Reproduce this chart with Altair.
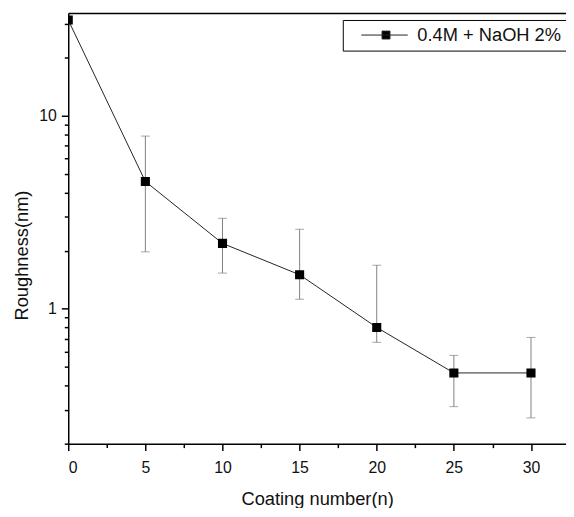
import altair as alt
import pandas as pd

# ---- data ----
coating = [0, 5, 10, 15, 20, 25, 30]
roughness = [31.3, 4.56, 2.18, 1.50, 0.80, 0.465, 0.465]
err_low = [None, 1.97, 1.53, 1.12, 0.67, 0.311, 0.272]
err_high = [None, 7.84, 2.94, 2.58, 1.68, 0.573, 0.71]
series_name = "0.4M + NaOH 2%"

x_ticks = [0, 2.5, 5, 7.5, 10, 12.5, 15, 17.5, 20, 22.5, 25, 27.5, 30]
x_major = [0, 5, 10, 15, 20, 25, 30]
y_ticks = [0.2, 0.3, 0.4, 0.5, 0.6, 0.7, 0.8, 0.9, 1, 2, 3, 4, 5, 6, 7, 8, 9, 10, 20, 30]
y_major = [1, 10]
y_labels = ["1", "10"]
x_domain = [0, 32.27]
y_domain = [0.2, 34]

df = pd.DataFrame({
    "coating": coating,
    "roughness": roughness,
    "lo": err_low,
    "hi": err_high,
    "series": [series_name] * len(coating),
})
err_df = df.dropna(subset=["lo", "hi"])

FONT = "Liberation Sans"
xs = alt.Scale(domain=x_domain, nice=False, zero=False)
ys = alt.Scale(type="log", domain=y_domain, nice=False)

x_major_js = "[" + ",".join(str(v) for v in x_major) + "]"
y_major_js = "[" + ",".join(str(v) for v in y_major) + "]"
y_label_expr = " : ".join(
    f"datum.value == {v} ? '{t}'" for v, t in zip(y_major, y_labels)
) + " : ''"

x_axis = alt.Axis(
    values=x_ticks,
    labelExpr=f"indexof({x_major_js}, datum.value) >= 0 ? datum.label : ''",
    tickSize={"condition": {"test": f"indexof({x_major_js}, datum.value) >= 0", "value": 7}, "value": 4},
    title="Coating number(n)",
    titleY=47,
    titleBaseline="top",
    grid=False,
    labelPadding=9,
)
y_axis = alt.Axis(
    values=y_ticks,
    labelExpr=y_label_expr,
    tickSize={"condition": {"test": f"indexof({y_major_js}, datum.value) >= 0", "value": 7}, "value": 4},
    title="Roughness(nm)",
    titleX=-37,
    titleY=245,
    titleAngle=-90,
    titleBaseline="bottom",
    titleAlign="center",
    grid=False,
    labelPadding=5,
)
top_axis = alt.Axis(orient="top", labels=False, ticks=False, title=None, grid=False)

legend_symbol = "M-1.1,0M0.7,0H10.1M4.9,-0.8H6.5V0.8H4.9Z"

base = alt.Chart(df)

errs = alt.Chart(err_df).mark_errorbar(
    ticks={"size": 9}, color="#808080", thickness=1
).encode(
    x=alt.X("coating:Q", scale=xs, axis=top_axis),
    y=alt.Y("lo:Q", scale=ys, axis=y_axis),
    y2="hi:Q",
)

line = base.mark_line(strokeWidth=1, clip=True).encode(
    x=alt.X("coating:Q", scale=xs, axis=x_axis),
    y=alt.Y("roughness:Q", scale=ys, axis=y_axis),
    color=alt.Color(
        "series:N",
        scale=alt.Scale(range=["#222222"]),
        legend=alt.Legend(
            title=None,
            orient="none",
            legendX=278,
            legendY=7,
            padding=6,
            strokeColor="black",
            fillColor="white",
            cornerRadius=0,
            symbolType=legend_symbol,
            symbolSize=100,
            symbolStrokeWidth=1,
            symbolFillColor="black",
            symbolStrokeColor="black",
            labelOffset=51,
            labelFontSize=18.5,
            labelFont=FONT,
            labelColor="#111111",
            labelLimit=0,
        ),
    ),
)

pts = base.mark_point(
    shape="square", filled=True, size=85, color="black", opacity=1, clip=True
).encode(
    x=alt.X("coating:Q", scale=xs, axis=None),
    y=alt.Y("roughness:Q", scale=ys, axis=y_axis),
)

chart = alt.layer(errs, line, pts).resolve_axis(x="independent").properties(
    width=504,
    height=436,
    autosize=alt.AutoSizeParams(type="none"),
    padding={"left": 61, "top": 2, "right": 0, "bottom": 62},
).configure_view(
    stroke=None
).configure_axis(
    domainColor="black",
    domainWidth=1.5,
    tickColor="black",
    tickWidth=1.5,
    labelFont=FONT,
    labelFontSize=16,
    labelColor="#111111",
    titleFont=FONT,
    titleFontSize=18.5,
    titleFontWeight="normal",
    titleColor="#111111",
)

chart.save("out.html", embed_options={"renderer": "svg", "actions": False})
